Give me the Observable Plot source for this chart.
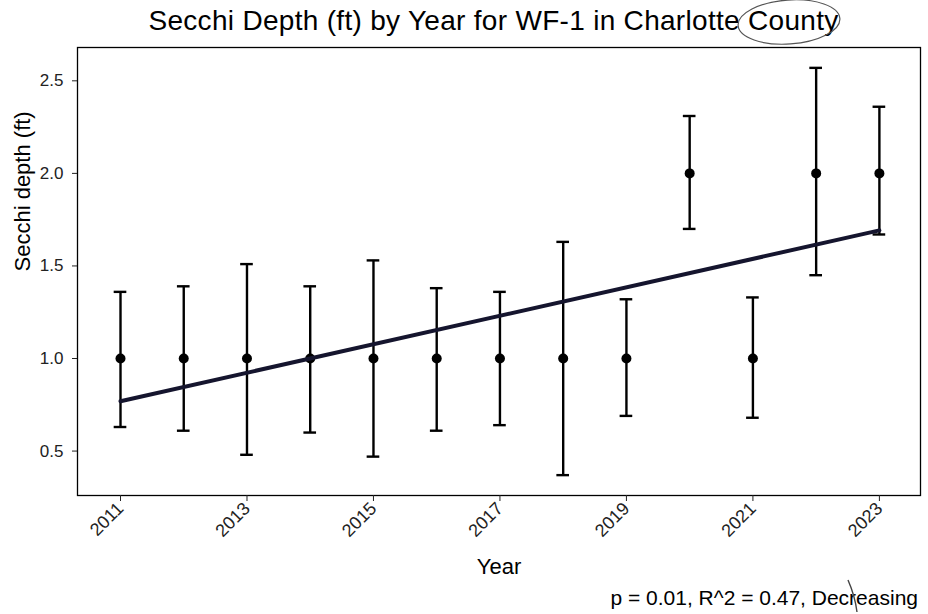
<!DOCTYPE html>
<html>
<head>
<meta charset="utf-8">
<script src="https://cdn.jsdelivr.net/npm/d3@7"></script>
<script src="https://cdn.jsdelivr.net/npm/@observablehq/plot@0.6"></script>
<style>
  html, body { margin: 0; padding: 0; background: #fff; }
  #wrap { position: relative; width: 928px; height: 614px; font-family: "Liberation Sans", Arial, Helvetica, sans-serif; color: #000; }
  #title { height: 40px; line-height: 42px; margin-left: 67px; width: 853px; text-align: center; font-size: 28px; letter-spacing: 0.3px; white-space: nowrap; }
  #caption { height: 34px; line-height: 36px; text-align: right; padding-right: 10px; font-size: 21px; white-space: nowrap; }
  #pen { position: absolute; left: 0; top: 0; pointer-events: none; }
</style>
</head>
<body>
<div id="wrap">
  <div id="title">Secchi Depth (ft) by Year for WF-1 in Charlotte County</div>
  <div id="chart"></div>
  <div id="caption">p = 0.01, R^2 = 0.47, Decreasing</div>
  <svg id="pen" width="928" height="614">
    <ellipse cx="789" cy="22" rx="51" ry="22" fill="none" stroke="#555" stroke-width="1.2" transform="rotate(-4 789 22)"></ellipse>
    <path d="M848,580 Q855,596 857,612" fill="none" stroke="#444" stroke-width="1.4"></path>
  </svg>
</div>
<script>
// Data
const years  = [2011, 2012, 2013, 2014, 2015, 2016, 2017, 2018, 2019, 2020, 2021, 2022, 2023];
const means  = [1.0, 1.0, 1.0, 1.0, 1.0, 1.0, 1.0, 1.0, 1.0, 2.0, 1.0, 2.0, 2.0];
const upper  = [1.36, 1.39, 1.51, 1.39, 1.53, 1.38, 1.36, 1.63, 1.32, 2.31, 1.33, 2.57, 2.36];
const lower  = [0.63, 0.61, 0.48, 0.60, 0.47, 0.61, 0.64, 0.37, 0.69, 1.70, 0.68, 1.45, 1.67];
const xTicks = [2011, 2013, 2015, 2017, 2019, 2021, 2023];
const yTicks = [0.5, 1.0, 1.5, 2.0, 2.5];
const xDomain = [2010.32, 2023.65];
const yDomain = [0.26, 2.68];
const xLabel = "Year";
const yLabel = "Secchi depth (ft)";

const data = years.map((year, i) => ({year, mean: means[i], hi: upper[i], lo: lower[i]}));
const capHalf = 0.1;

const chart = Plot.plot({
  width: 928,
  height: 540,
  marginTop: 7,
  marginBottom: 85,
  marginLeft: 77,
  marginRight: 8,
  style: {fontFamily: '"Liberation Sans", Arial, Helvetica, sans-serif', background: "white", color: "black"},
  x: {domain: xDomain},
  y: {domain: yDomain},
  marks: [
    Plot.frame({stroke: "black", strokeWidth: 1.3}),
    Plot.axisY({ticks: yTicks, tickFormat: d3.format(".1f"), tickSize: 5, tickPadding: 9, fontSize: 17, color: "#222", label: null}),
    Plot.axisX({ticks: xTicks, tickFormat: d => String(d), tickSize: 6, tickPadding: 4, tickRotate: -45, fontSize: 18, color: "#222", label: null}),
    Plot.text([yLabel], {frameAnchor: "left", dx: -55, rotate: -90, fontSize: 22, fill: "black"}),
    Plot.text([xLabel], {frameAnchor: "bottom", dy: 78, fontSize: 22, fill: "black"}),
    Plot.ruleX(data, {x: "year", y1: "lo", y2: "hi", stroke: "black", strokeWidth: 2.4}),
    Plot.ruleY(data, {y: "hi", x1: d => d.year - capHalf, x2: d => d.year + capHalf, stroke: "black", strokeWidth: 2.4}),
    Plot.ruleY(data, {y: "lo", x1: d => d.year - capHalf, x2: d => d.year + capHalf, stroke: "black", strokeWidth: 2.4}),
    Plot.dot(data, {x: "year", y: "mean", r: 5, fill: "black", stroke: "none"}),
    Plot.linearRegressionY(data, {x: "year", y: "mean", ci: 0, stroke: "#15152e", strokeWidth: 4})
  ]
});
document.getElementById("chart").appendChild(chart);
</script>
</body>
</html>
